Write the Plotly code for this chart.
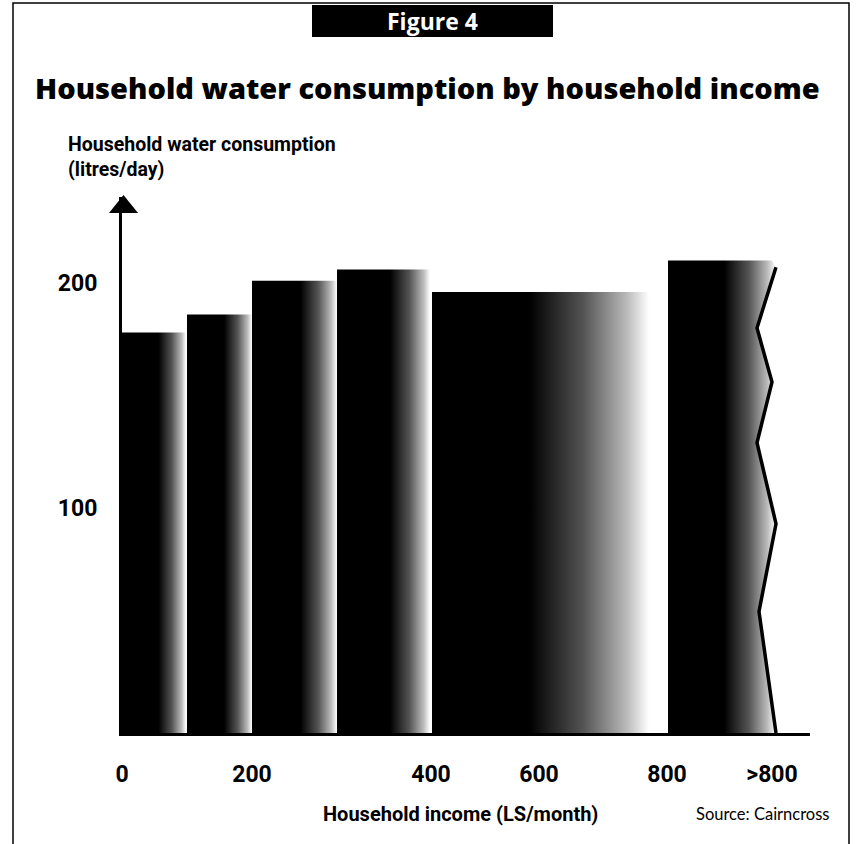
import plotly.graph_objects as go

# ---------------- data ----------------
bands = ["0-100", "100-200", "200-300", "300-400", "400-800", ">800"]
consumption = [178, 186, 201, 206, 196, 210]          # litres/day
# drawn extent of each income band on the (unevenly drawn) income axis
band_left = [0, 65, 130, 215, 310, 546]
band_right = [64, 130, 215, 308, 527, 650]
x_tick_pos = [0, 130, 309, 417, 545, 650]
x_tick_text = ["0", "200", "400", "600", "800", ">800"]
y_tick_vals = [100, 200]
y_tick_text = ["100", "200"]
# axis-break zigzag forming the right edge of the open-ended last band
break_x = [654, 635, 650, 635, 654, 637, 654]
break_y = [207, 180, 156, 129, 93, 54, 0]

# ---------------- layout geometry ----------------
W, H = 865, 844
ML, MR, MT, MB = 122, 55, 197, 111
PW, PH = W - ML - MR, H - MT - MB
Y_MAX = 238.2
X_MAX = 688


def px(x):
    return (x - ML) / PW


def py(y):
    return (H - MB - y) / PH


COND = "Roboto, Liberation Sans Narrow, sans-serif"
HEAVY = "Open Sans, DejaVu Sans, sans-serif"

fig = go.Figure()

for i, (b, v, x0, x1) in enumerate(zip(bands, consumption, band_left, band_right)):
    if i == len(bands) - 1:
        xs = [x0, x0, x1] + break_x
        ys = [0, v, v] + break_y
        cs = [[0, "#000"], [0.52, "#000"], [0.75, "#555"], [0.92, "#bbb"], [1, "#fff"]]
    elif i == 4:
        xs = [x0, x1, x1, x0, x0]
        ys = [0, 0, v, v, 0]
        cs = [[0, "#000"], [0.45, "#000"], [0.7, "#555"], [0.9, "#bbb"], [1, "#fff"]]
    else:
        xs = [x0, x1, x1, x0, x0]
        ys = [0, 0, v, v, 0]
        cs = [[0, "#000"], [0.57, "#000"], [0.78, "#555"], [0.93, "#bbb"], [1, "#fff"]]
    fig.add_trace(go.Scatter(
        x=xs, y=ys, mode="lines", fill="toself",
        line=dict(width=0, color="rgba(0,0,0,0)"),
        fillgradient=dict(type="horizontal", colorscale=cs),
        name=b, hoverinfo="text", text=f"{b}: {v} litres/day",
        showlegend=False,
    ))

# zigzag break line
fig.add_trace(go.Scatter(
    x=break_x, y=break_y, mode="lines",
    line=dict(color="black", width=3.5), hoverinfo="skip", showlegend=False,
))

fig.update_layout(
    width=W, height=H, autosize=False,
    margin=dict(l=ML, r=MR, t=MT, b=MB, pad=0),
    paper_bgcolor="white", plot_bgcolor="white",
    showlegend=False,
    xaxis=dict(
        range=[0, X_MAX], showgrid=False, zeroline=False,
        showline=True, linecolor="black", linewidth=3,
        tickmode="array", tickvals=x_tick_pos, ticktext=x_tick_text,
        ticks="outside", ticklen=18, tickcolor="rgba(0,0,0,0)",
        tickfont=dict(family=COND, size=23, color="black", weight="bold"),
        fixedrange=True,
    ),
    yaxis=dict(
        range=[0, Y_MAX], showgrid=False, zeroline=False,
        showline=True, linecolor="black", linewidth=3,
        tickmode="array", tickvals=y_tick_vals, ticktext=y_tick_text,
        ticks="outside", ticklen=17, tickcolor="rgba(0,0,0,0)",
        tickfont=dict(family=COND, size=23, color="black", weight="bold"),
        fixedrange=True,
    ),
)

shapes = [
    # outer frame
    dict(type="rect", xref="paper", yref="paper",
         x0=px(13), x1=px(849), y0=py(3), y1=py(870),
         line=dict(color="black", width=1.5), fillcolor="rgba(0,0,0,0)", layer="below"),
    # Figure banner
    dict(type="rect", xref="paper", yref="paper",
         x0=px(312), x1=px(553), y0=py(5), y1=py(37),
         line=dict(width=0), fillcolor="black"),
    # arrow head on y axis
    dict(type="path", xref="paper", yref="paper",
         path=f"M {px(109)} {py(213)} L {px(123.5)} {py(195)} L {px(138)} {py(213)} Z",
         line=dict(width=0), fillcolor="black"),
]
fig.update_layout(shapes=shapes)

annotations = [
    dict(text="Figure 4", x=px(432), y=py(21), xref="paper", yref="paper",
         xanchor="center", yanchor="middle", showarrow=False,
         font=dict(family=HEAVY, size=23, color="white", weight="bold")),
    dict(text="Household water consumption by household income",
         x=px(427), y=py(88), xref="paper", yref="paper",
         xanchor="center", yanchor="middle", showarrow=False,
         font=dict(family=HEAVY, size=29, color="black", weight=800)),
    dict(text="Household water consumption<br>(litres/day)",
         x=px(66), y=py(131), xref="paper", yref="paper",
         xanchor="left", yanchor="top", align="left", showarrow=False,
         font=dict(family=COND, size=19.5, color="black", weight="bold")),
    dict(text="Household income (LS/month)",
         x=px(460), y=py(814), xref="paper", yref="paper",
         xanchor="center", yanchor="middle", showarrow=False,
         font=dict(family=COND, size=20, color="black", weight="bold")),
    dict(text="Source: Cairncross",
         x=px(832), y=py(814), xref="paper", yref="paper",
         xanchor="right", yanchor="middle", showarrow=False,
         font=dict(family="Lato, Noto Sans, sans-serif", size=16.5, color="black")),
]
fig.update_layout(annotations=annotations)

fig.write_html("out.html")
